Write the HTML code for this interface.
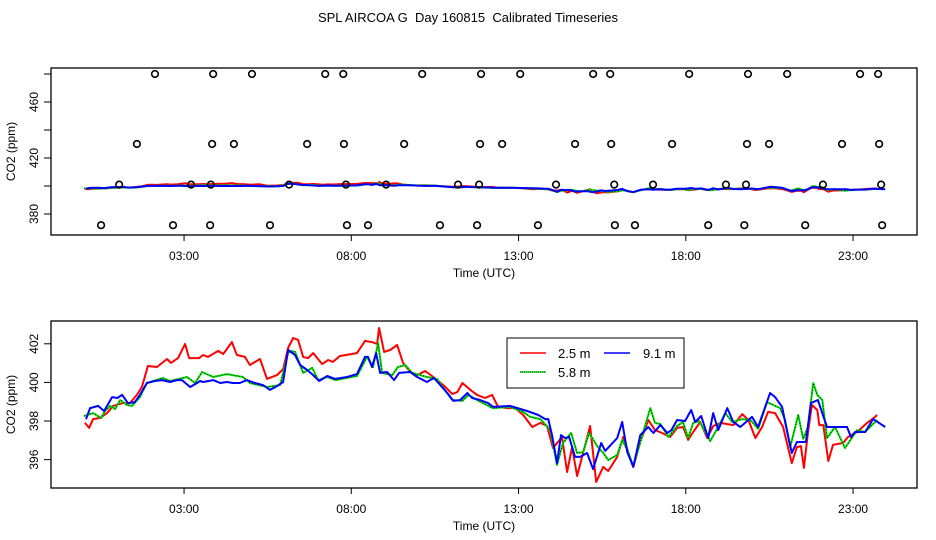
<!DOCTYPE html>
<html><head><meta charset="utf-8"><style>
body{margin:0;background:#fff;}
svg{display:block;font-family:"Liberation Sans",sans-serif;}
</style></head><body>
<svg id="chart" width="936" height="540" viewBox="0 0 936 540">
<text x="468" y="22" font-size="13" text-anchor="middle" style="white-space:pre" xml:space="preserve">SPL AIRCOA G  Day 160815  Calibrated Timeseries</text>
<g id="topPanel"></g>
<g id="botPanel"></g>
</svg>
<script>
const redT=[0.04,0.16,0.28,0.49,0.70,0.88,1.17,1.38,1.59,1.74,1.92,2.19,2.49,2.61,2.82,3.03,3.15,3.45,3.57,3.72,4.02,4.17,4.43,4.58,4.82,4.97,5.27,5.48,5.78,5.96,6.11,6.26,6.41,6.56,6.71,6.86,7.13,7.31,7.45,7.66,8.17,8.41,8.62,8.77,8.83,8.98,9.16,9.37,9.55,9.76,9.97,10.21,10.45,10.75,11.02,11.17,11.32,11.56,11.76,12.00,12.21,12.39,12.66,12.90,13.14,13.41,13.65,13.85,14.03,14.30,14.45,14.60,14.75,14.93,15.14,15.32,15.53,15.68,15.95,16.13,16.43,16.64,16.88,17.08,17.29,17.53,17.74,17.92,18.07,18.22,18.43,18.64,18.82,19.03,19.42,19.69,19.87,20.08,20.28,20.46,20.67,20.91,21.17,21.32,21.44,21.53,21.65,21.77,21.93,21.99,22.11,22.26,22.40,22.70,22.85,23.12,23.42,23.66,23.72];
const redV=[397.90,397.64,398.10,398.16,398.41,398.78,398.93,398.93,399.35,399.76,400.85,400.80,401.21,401.01,401.26,401.99,401.26,401.26,401.42,401.32,401.63,401.47,402.09,401.42,401.32,400.90,401.21,400.18,400.38,400.69,401.78,402.30,402.20,401.32,401.26,401.52,400.95,401.16,401.06,401.37,401.52,402.15,402.09,401.99,402.82,401.58,401.68,401.94,401.01,400.54,400.38,400.59,400.28,399.86,399.40,399.50,399.97,399.61,399.35,399.19,399.35,398.73,398.67,398.67,398.31,397.69,397.90,397.74,396.60,397.17,395.36,396.65,395.15,396.34,397.74,394.84,395.62,395.41,396.14,397.17,395.62,396.91,398.05,397.53,397.38,397.17,397.64,397.69,397.02,397.43,397.95,397.12,397.74,397.90,397.79,398.36,398.05,397.12,397.69,398.47,398.41,397.69,395.82,396.65,396.70,395.57,397.38,398.83,398.57,397.79,397.79,395.93,396.76,396.86,397.17,397.43,397.90,398.21,398.31];
const greenT=[0.01,0.28,0.52,0.64,0.79,0.94,1.09,1.29,1.44,1.68,1.89,2.37,2.58,3.09,3.33,3.54,3.87,4.28,4.76,4.97,5.48,5.87,6.11,6.17,6.32,6.56,6.83,7.01,7.28,7.52,8.17,8.47,8.65,8.80,8.92,9.22,9.40,9.61,9.82,10.06,10.26,10.56,10.75,11.02,11.32,11.50,11.76,12.15,12.24,12.75,13.14,13.35,13.65,13.95,14.15,14.33,14.57,14.75,14.93,15.11,15.35,15.53,15.68,15.95,16.10,16.25,16.43,16.64,16.94,17.08,17.24,17.48,17.74,17.92,18.07,18.22,18.40,18.73,18.97,19.18,19.39,19.69,19.93,20.16,20.43,20.82,20.97,21.12,21.36,21.51,21.65,21.81,21.93,22.08,22.22,22.46,22.76,23.12,23.36,23.72];
const greenV=[398.26,398.41,398.16,398.52,398.78,398.62,399.09,398.83,398.78,399.24,399.97,400.23,400.07,400.28,399.97,400.54,400.28,400.43,400.28,399.97,399.76,399.86,401.52,401.63,401.58,400.49,400.75,400.12,400.28,400.12,400.33,401.32,400.80,402.04,400.49,400.38,400.80,400.90,400.49,400.38,400.28,400.18,399.71,399.09,399.04,399.35,399.09,398.73,398.67,398.73,398.47,398.21,398.10,397.53,395.72,396.86,397.38,396.34,396.39,397.38,396.70,396.34,395.98,396.24,397.02,396.50,395.67,396.91,398.67,397.90,397.84,397.17,397.74,397.95,397.12,397.90,398.00,396.96,397.69,398.41,397.95,398.10,398.05,397.59,398.98,398.67,398.05,396.65,398.31,397.07,397.69,399.97,399.35,399.09,397.12,397.69,396.60,397.53,397.43,398.05];
const blueT=[0.07,0.19,0.43,0.61,0.85,1.00,1.15,1.32,1.53,1.68,1.89,2.13,2.34,2.58,2.79,2.94,3.18,3.39,3.48,3.57,3.87,4.08,4.28,4.46,4.67,4.88,5.12,5.36,5.57,5.78,5.96,6.11,6.32,6.47,6.68,6.86,7.04,7.28,7.52,7.87,8.17,8.41,8.50,8.62,8.74,8.86,9.07,9.28,9.43,9.76,9.97,10.26,10.47,10.66,10.87,11.05,11.26,11.47,11.61,11.85,12.09,12.24,12.75,13.26,13.59,13.80,13.89,14.00,14.15,14.27,14.39,14.51,14.69,14.84,15.05,15.23,15.47,15.59,15.95,16.10,16.25,16.43,16.64,16.88,17.03,17.24,17.45,17.57,17.74,17.98,18.16,18.28,18.46,18.67,18.82,18.97,19.24,19.42,19.63,19.98,20.16,20.52,20.67,20.88,21.03,21.17,21.32,21.59,21.74,21.95,22.13,22.22,22.82,22.94,23.06,23.36,23.60,23.96];
const blueV=[398.10,398.67,398.78,398.52,399.24,399.19,399.35,398.93,398.98,399.35,399.97,400.07,400.12,400.02,400.12,400.12,399.76,399.97,400.07,400.02,400.12,399.97,400.02,399.97,399.97,400.12,399.97,399.86,399.61,399.81,400.02,401.68,401.42,400.90,400.64,400.38,400.07,400.33,400.18,400.28,400.43,401.32,401.32,400.80,401.52,400.49,400.54,400.12,400.49,400.54,400.28,400.02,400.23,399.86,399.45,399.04,399.09,399.45,399.19,399.09,398.93,398.73,398.78,398.52,398.31,398.10,398.10,397.27,395.82,397.27,397.12,397.17,396.14,396.14,396.34,395.51,396.86,396.45,397.12,397.95,396.39,395.62,397.27,397.69,397.38,397.79,397.38,397.53,398.05,398.00,398.57,397.95,398.26,397.12,398.41,397.53,398.67,397.95,397.69,398.21,397.69,399.45,399.24,398.73,397.43,396.34,396.91,396.91,398.93,399.09,398.16,397.69,397.69,397.17,397.43,397.43,398.10,397.69];
const cal480T=[2.13,3.87,5.03,7.22,7.76,10.12,11.88,13.05,15.23,15.74,18.10,19.86,21.03,23.21,23.75];
const cal430T=[1.59,3.84,4.49,6.68,7.78,9.58,11.85,12.51,14.69,15.77,17.59,19.83,20.49,22.67,23.78];
const cal400T=[1.06,3.21,3.80,6.14,7.84,9.04,11.19,11.82,14.12,15.86,17.02,19.20,19.80,22.10,23.84];
const cal370T=[0.52,2.67,3.78,5.57,7.87,8.50,10.65,11.76,13.58,15.88,16.48,18.67,19.75,21.57,23.87];
const calValues=[480,430,401,372];
const xTickHours=[3,8,13,18,23];
const xTickLabels=["03:00","08:00","13:00","18:00","23:00"];
const topTicks=[380,400,420,440,460,480];
const topTickLabels=["380","","420","","460",""];
const botTicks=[396,398,400,402];

const NS="http://www.w3.org/2000/svg";
function el(tag,attrs,parent,txt){const e=document.createElementNS(NS,tag);for(const k in attrs)e.setAttribute(k,attrs[k]);if(txt!==undefined)e.textContent=txt;parent.appendChild(e);return e;}
const xs=h=>83.7+h*33.45;
const yTop=v=>214-(v-380)*1.4;
const yBot=v=>421-(v-398)*19.3;

function axes(g,y0,y1,yf,ticks,labels,nm){
  const box=el('rect',{x:51,y:y0,width:866,height:y1-y0,fill:'none',stroke:'#000','stroke-width':1.3},g);
  
  
  xTickHours.forEach((h,i)=>{
    const t=el('line',{x1:xs(h),x2:xs(h),y1:y1,y2:y1+6,stroke:'#000'},g);
    
    
    const l=el('text',{x:xs(h),y:y1+25,'font-size':12,'text-anchor':'middle'},g,xTickLabels[i]);
    
    
  });
  const xt=el('text',{x:484,y:y1+42,'font-size':12,'text-anchor':'middle'},g,'Time (UTC)');
  
  
  ticks.forEach((v,i)=>{
    const y=yf(v);
    const t=el('line',{x1:44,x2:51,y1:y,y2:y,stroke:'#000'},g);
    
    
    const lab=labels?labels[i]:String(v);
    if(lab){
      const l=el('text',{x:0,y:0,'font-size':12,'text-anchor':'middle',transform:`translate(38,${y}) rotate(-90)`},g,lab);
      
      
    }
  });
  const yt=el('text',{x:0,y:0,'font-size':12,'text-anchor':'middle',transform:`translate(15,${(y0+y1)/2}) rotate(-90)`},g,'CO2 (ppm)');
  
  
}
function series(g,T,V,yf,color,nm,w){
  const pts=T.map((t,i)=>xs(t).toFixed(1)+','+yf(V[i]).toFixed(1)).join(' ');
  const p=el('polyline',{points:pts,fill:'none',stroke:color,'stroke-width':w,'stroke-linejoin':'round'},g);
  
  
  return pts;
}
function drawLines(g,yf,nm){
  series(g,redT,redV,yf,'#ff0000',nm+'-line-2-5m',2);
  const gp=series(g,greenT,greenV,yf,'#00e000',nm+'-line-5-8m',2);
  const d=el('polyline',{points:gp,fill:'none',stroke:'#000','stroke-width':0.8,'stroke-dasharray':'1,2'},g);
  
  
  series(g,blueT,blueV,yf,'#0000ff',nm+'-line-9-1m',2);
}
const topG=document.getElementById('topPanel'),botG=document.getElementById('botPanel');
axes(topG,68,235,yTop,topTicks,topTickLabels,'top');
drawLines(topG,yTop,'top');
[cal480T,cal430T,cal400T,cal370T].forEach((arr,k)=>{
  arr.forEach(t=>{
    const c=el('circle',{cx:xs(t),cy:yTop(calValues[k]),r:3.3,fill:'none',stroke:'#000','stroke-width':1.6},topG);
    
    
  });
});
axes(botG,321,488,yBot,botTicks,null,'bottom');
drawLines(botG,yBot,'bottom');
const lg=el('g',{},botG);


el('rect',{x:507,y:338,width:177,height:50,fill:'#fff',stroke:'#000','stroke-width':1},lg);
const items=[['#ff0000',520,353,'2.5 m',558,false],['#0000ff',604,353,'9.1 m',643,false],['#00e000',520,372,'5.8 m',558,true]];
items.forEach(it=>{
  const e=el('g',{},lg);
  
  
  el('line',{x1:it[1],x2:it[1]+26,y1:it[2],y2:it[2],stroke:it[0],'stroke-width':1.5},e);
  if(it[5]) el('line',{x1:it[1],x2:it[1]+26,y1:it[2],y2:it[2],stroke:'#000','stroke-width':0.8,'stroke-dasharray':'1,1'},e);
  el('text',{x:it[4],y:it[2]+5,'font-size':13},e,it[3]);
});
</script>
</body></html>
